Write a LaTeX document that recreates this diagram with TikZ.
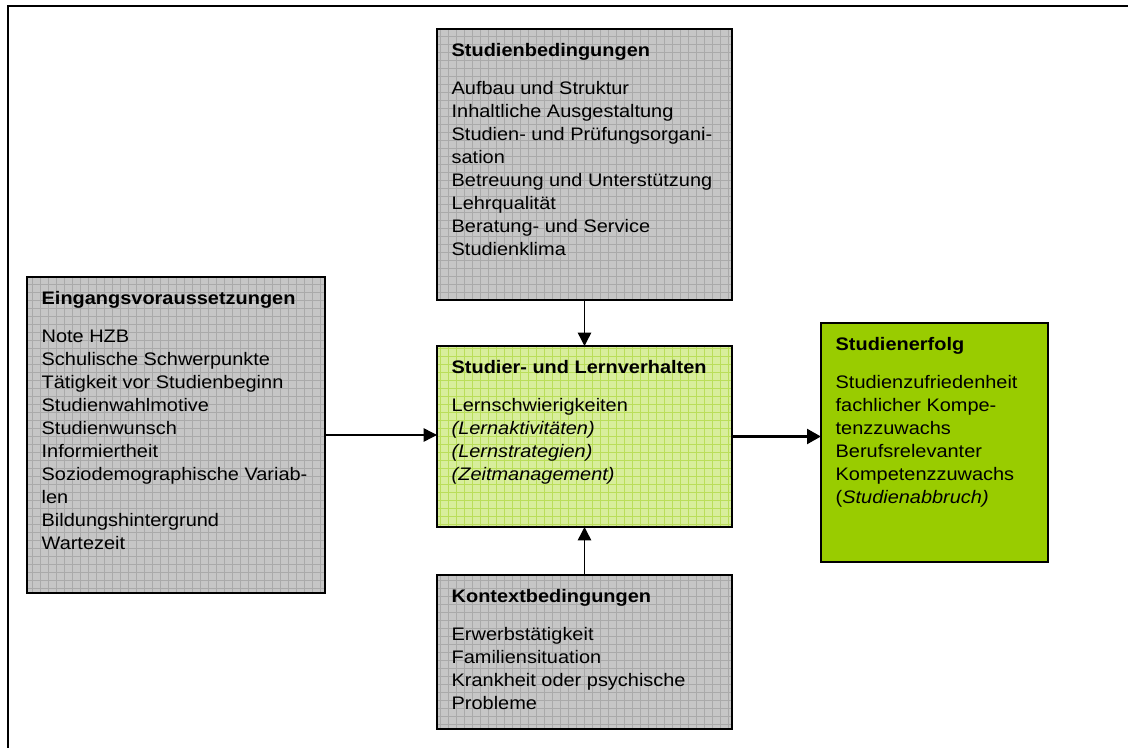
\documentclass[tikz,border=0pt]{standalone}
\usepackage{fontspec}
\setmainfont{Liberation Sans}[FakeStretch=1.1]
\usepackage{tikz}
\usetikzlibrary{arrows.meta, positioning, patterns.meta}
\definecolor{boxgray}{RGB}{198,198,198}
\definecolor{gridgray}{RGB}{170,170,170}
\definecolor{lightgreen}{RGB}{216,238,156}
\definecolor{gridgreen}{RGB}{186,222,90}
\definecolor{erfgreen}{RGB}{153,204,0}
\tikzset{
    factor/.style = {rectangle, draw, line width=1.5pt, anchor=north west,
                     inner xsep=11pt, inner ysep=11pt, outer sep=0pt},
    grayfill/.style = {preaction={fill=boxgray}, pattern color=gridgray,
                       pattern={Hatch[angle=0,distance=6pt,line width=0.7pt]}},
    greenfill/.style = {preaction={fill=lightgreen}, pattern color=gridgreen,
                        pattern={Hatch[angle=0,distance=6pt,line width=0.7pt]}},
    arrow/.style = {-{Triangle[length=10pt,width=10pt]}, line width=1.1pt},
    thickarrow/.style = {-{Triangle[length=10.5pt,width=11pt]}, line width=2.4pt}
    }
% width, height, text
\newcommand{\boxtext}[3]{\parbox[c][#2][t]{#1}{\fontsize{13.6}{17.25}\selectfont #3}}

\begin{document}
\begin{tikzpicture}[
      x = 0.75pt, y = -0.75pt, % pixel grid
      semithick
    ]
    \useasboundingbox (0,0) rectangle (1128,748);
    \draw[line width=1.1pt] (8,748) |- (1128,6);

    \node[factor, grayfill] (bed) at (437,29) {\boxtext{199.25pt}{181.25pt}{%
        \textbf{Studienbedingungen}\\[11pt]
        Aufbau und Struktur\\
        Inhaltliche Ausgestaltung\\
        Studien- und Prüfungsorgani-\\
        sation\\
        Betreuung und Unterstützung\\
        Lehrqualität\\
        Beratung- und Service\\
        Studienklima}};
    \node[factor, grayfill] (ein) at (27,277) {\boxtext{201.5pt}{215pt}{%
        \textbf{Eingangsvoraussetzungen}\\[11pt]
        Note HZB\\
        Schulische Schwerpunkte\\
        Tätigkeit vor Studienbeginn\\
        Studienwahlmotive\\
        Studienwunsch\\
        Informiertheit\\
        Soziodemographische Variab-\\
        len\\
        Bildungshintergrund\\
        Wartezeit}};
    \node[factor, greenfill] (lern) at (437,346) {\boxtext{199.25pt}{113.75pt}{%
        \textbf{Studier- und Lernverhalten}\\[11pt]
        Lernschwierigkeiten\\
        \textit{(Lernaktivitäten)}\\
        \textit{(Lernstrategien)}\\
        \textit{(Zeitmanagement)}}};
    \node[factor, grayfill] (kon) at (437,575) {\boxtext{199.25pt}{93.5pt}{%
        \textbf{Kontextbedingungen}\\[11pt]
        Erwerbstätigkeit\\
        Familiensituation\\
        Krankheit oder psychische\\
        Probleme}};
    \node[factor, fill=erfgreen] (erf) at (821,323) {\boxtext{148.25pt}{157.25pt}{%
        \textbf{Studienerfolg}\\[11pt]
        Studienzufriedenheit\\
        fachlicher Kompe-\\
        tenzzuwachs\\
        Berufsrelevanter\\
        Kompetenzzuwachs\\
        (\textit{Studienabbruch)}}};

    \draw[arrow] (bed) -- (lern);
    \draw[arrow] (kon) -- (lern);
    \draw[arrow] (ein.east) -- (ein.east -| lern.west);
    \draw[thickarrow] (lern.east) -- (lern.east -| erf.west);
\end{tikzpicture}
\end{document}
